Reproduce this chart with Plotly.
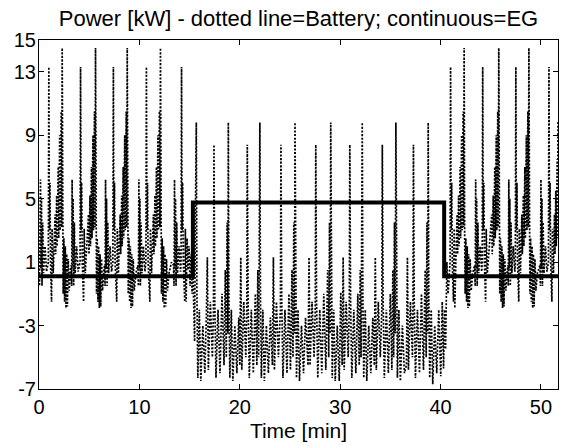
import plotly.graph_objects as go

TITLE = "Power [kW] - dotted line=Battery; continuous=EG"
X_LABEL = "Time [min]"
X_TICKS = [0, 10, 20, 30, 40, 50]
Y_TICKS = [-7, -3, 1, 5, 9, 13, 15]

# Electric grid (EG) power, step profile [min], [kW]
EG_T = [0.0, 15.33, 40.36, 51.7]
EG_V = [0.1, 4.75, 0.1, 0.1]

# Battery power, section 1 (0 - 15.33 min)
S1_T = [0.00, 0.05, 0.15, 0.20, 0.25, 0.30, 0.37, 0.45, 0.60, 0.75, 0.93, 0.98, 1.03, 1.09, 1.15, 1.25, 1.31, 1.42,
        1.61, 1.66, 1.76, 1.81, 1.91, 1.96, 2.06, 2.11, 2.21, 2.26, 2.31, 2.36, 2.41, 2.48, 2.55, 2.62, 2.69, 2.76,
        2.83, 2.91, 3.01, 3.11, 3.20, 3.25,
        3.30, 3.35, 3.40, 3.45, 3.52, 3.60, 3.75, 3.90, 4.09, 4.14, 4.19, 4.25, 4.31, 4.44, 4.50, 4.61,
        4.93, 4.98, 5.08, 5.13, 5.23, 5.28, 5.38, 5.43, 5.53, 5.58, 5.63, 5.68, 5.73, 5.80, 5.87, 5.94, 6.01, 6.08,
        6.15, 6.23, 6.33, 6.43, 6.53, 6.58,
        6.63, 6.68, 6.73, 6.78, 6.85, 6.93, 7.08, 7.23, 7.36, 7.41, 7.46, 7.52, 7.58, 7.74, 7.80, 7.91,
        8.09, 8.14, 8.24, 8.29, 8.39, 8.44, 8.54, 8.59, 8.69, 8.74, 8.79, 8.84, 8.89, 8.96, 9.03, 9.10, 9.17, 9.24,
        9.31, 9.39, 9.49, 9.65, 9.85, 9.90,
        9.95, 10.00, 10.05, 10.10, 10.17, 10.25, 10.40, 10.55, 10.65, 10.70, 10.75, 10.81, 10.87, 11.04, 11.10, 11.21,
        11.40, 11.45, 11.55, 11.60, 11.70, 11.75, 11.85, 11.90, 12.00, 12.05, 12.10, 12.15, 12.20, 12.27, 12.34, 12.41,
        12.48, 12.55, 12.62, 12.70, 12.80, 12.95, 13.20, 13.40, 13.45,
        13.50, 13.55, 13.60, 13.65, 13.72, 13.80, 13.95, 14.10, 14.15, 14.20, 14.25, 14.31, 14.37, 14.52, 14.58, 14.66,
        14.75, 14.85, 14.95, 15.05, 15.15, 15.25, 15.33]
S1_V = [0.8, -0.5, 6.2, 0.6, 5.0, -0.5, 3.5, 0.3, 2.0, 0.4, 1.0, 13.3, 3.0, 6.0, 1.0, -1.5, 3.1, 0.3,
        4.0, 1.5, 5.2, 2.0, 7.0, 2.5, 9.0, 3.0, 10.5, 3.2, 14.5, 3.0, -1.0, 2.5, -1.5, 2.0, -1.9, 1.5,
        -1.8, 1.2, -0.8, 0.3, 0.8, -0.5,
        6.2, 0.6, 5.0, -0.5, 3.5, 0.3, 2.0, 0.4, 1.0, 13.3, 3.0, 6.0, 1.0, -1.5, 3.1, 0.3,
        4.0, 1.5, 5.2, 2.0, 7.0, 2.5, 9.0, 3.0, 10.5, 3.2, 14.5, 3.0, -1.0, 2.5, -1.5, 2.0, -1.9, 1.5,
        -1.8, 1.2, -0.8, 0.3, 0.8, -0.5,
        6.2, 0.6, 5.0, -0.5, 3.5, 0.3, 2.0, 0.4, 1.0, 13.3, 3.0, 6.0, 1.0, -1.5, 3.1, 0.3,
        4.0, 1.5, 5.2, 2.0, 7.0, 2.5, 9.0, 3.0, 10.5, 3.2, 14.5, 3.0, -1.0, 2.5, -1.5, 2.0, -1.9, 1.5,
        -1.8, 1.2, -0.8, 0.3, 0.8, -0.5,
        6.2, 0.6, 5.0, -0.5, 3.5, 0.3, 2.0, 0.4, 1.0, 13.3, 3.0, 6.0, 1.0, -1.5, 3.1, 0.3,
        4.0, 1.5, 5.2, 2.0, 7.0, 2.5, 9.0, 3.0, 10.5, 3.2, 14.5, 3.0, -1.0, 2.5, -1.5, 2.0,
        -1.9, 1.5, -1.8, 1.2, -0.8, 0.3, 1.0, 0.8, -0.5,
        6.2, 0.6, 5.0, -0.5, 3.5, 0.3, 2.0, 0.4, 1.0, 13.3, 3.0, 6.0, 1.0, -1.5, 3.1, -1.5,
        2.5, 0.5, 2.0, -0.5, 1.5, -1.0, 0.5]

# Battery power, section 2 (15.33 - 40.36 min)
S2_T = [15.40, 15.50, 15.58, 15.67, 15.73, 15.82, 15.97, 16.12, 16.32, 16.52, 16.67, 16.77,
        16.87, 17.07, 17.27, 17.38, 17.43, 17.51, 17.63, 17.83, 18.03, 18.23, 18.43, 18.56, 18.66, 18.74, 18.81,
        18.86, 18.92, 19.01, 19.16, 19.31, 19.51, 19.71, 19.90, 20.00, 20.10,
        20.20, 20.40, 20.60, 20.70, 20.75, 20.83, 20.95, 21.15, 21.35, 21.55, 21.70, 21.80, 21.88, 21.95,
        22.00, 22.06, 22.15, 22.30, 22.45, 22.65, 22.85, 23.05, 23.25, 23.35,
        23.45, 23.65, 23.85, 24.05, 24.10, 24.18, 24.30, 24.50, 24.70, 24.90, 25.05, 25.20, 25.30, 25.38, 25.45,
        25.50, 25.56, 25.65, 25.80, 25.95, 26.15, 26.35, 26.55, 26.80, 26.90,
        27.00, 27.20, 27.40, 27.52, 27.57, 27.65, 27.77, 27.97, 28.17, 28.37, 28.57, 28.76, 28.86, 28.94, 29.01,
        29.06, 29.12, 29.21, 29.36, 29.51, 29.71, 29.91, 30.06, 30.20, 30.30,
        30.40, 30.60, 30.80, 30.91, 30.96, 31.04, 31.16, 31.36, 31.56, 31.76, 31.90, 32.00, 32.08, 32.15,
        32.20, 32.26, 32.35, 32.50, 32.65, 32.85, 33.05, 33.25, 33.40, 33.50,
        33.60, 33.80, 34.00, 34.15, 34.20, 34.28, 34.40, 34.60, 34.80, 35.00, 35.15, 35.25, 35.33, 35.41, 35.48,
        35.55, 35.61, 35.70, 35.85, 36.00, 36.20, 36.40, 36.60, 36.70,
        36.80, 37.00, 37.20, 37.25, 37.30, 37.38, 37.50, 37.70, 37.90, 38.10, 38.30, 38.47, 38.57, 38.65, 38.72,
        38.77, 38.83, 38.92, 39.07, 39.22, 39.42, 39.62, 39.82, 40.02, 40.17, 40.30]
S2_V = [-2.0, -4.0, 4.0, 9.8, -1.0, -6.3, -2.0, -6.5, -3.0, -6.0, -2.5, 1.3,
        -5.8, -1.5, -5.0, -2.0, 8.4, -1.5, -6.3, -2.0, -6.0, -1.0, -5.5, 0.5, -5.0, 3.5, -3.5,
        9.8, -1.0, -6.3, -2.0, -6.5, -3.0, -6.0, -2.5, -5.5, 1.3,
        -5.8, -1.5, -5.0, -2.0, 8.4, -1.5, -6.3, -2.0, -6.0, -1.0, -5.5, 0.5, -5.0, 3.5,
        9.8, -1.0, -6.3, -2.0, -6.5, -3.0, -6.0, -2.5, -5.5, 1.3,
        -5.8, -1.5, -5.0, -2.0, 8.4, -1.5, -6.3, -2.0, -6.0, -1.0, -5.8, 0.5, -5.0, 3.5, -3.5,
        9.8, -1.0, -6.3, -2.0, -6.5, -3.0, -6.0, -2.5, -5.5, 1.3,
        -5.5, -1.5, -5.0, -2.0, 8.4, -1.5, -6.3, -2.0, -6.0, -1.0, -5.8, 0.5, -5.0, 3.5, -3.5,
        9.8, -1.0, -6.3, -2.0, -6.5, -3.0, -6.5, -0.9, -5.5, 1.3,
        -5.8, -1.5, -5.0, -2.0, 8.4, -1.5, -6.3, -2.0, -6.0, -1.0, -5.5, 0.5, -5.0, 3.5,
        9.8, -1.0, -6.3, -2.0, -6.5, -3.0, -6.0, -2.5, -5.5, 1.3,
        -5.8, -1.5, -5.0, -2.0, 8.4, -1.5, -6.3, -2.0, -6.0, -1.0, -5.8, 0.5, -5.0, 3.5, -3.5,
        9.8, -1.0, -6.3, -2.0, -6.5, -3.0, -6.0, -5.5, 1.3,
        -5.8, -1.5, -5.0, -2.0, 8.4, -1.5, -6.3, -2.0, -6.0, -1.0, -5.8, 0.5, -5.0, 3.5, -3.5,
        9.8, -1.0, -6.3, -2.0, -6.7, -3.0, -6.0, -2.0, -6.2, -1.5, -5.7]

# Battery power, section 3 (40.36 - 51.7 min)
S3_T = [40.40, 40.50, 40.63, 40.75, 40.95, 41.00, 41.05, 41.11, 41.17, 41.29, 41.35, 41.42, 41.52,
        41.65, 41.70, 41.80, 41.85, 41.95, 42.00, 42.10, 42.15, 42.25, 42.30, 42.35, 42.40, 42.45, 42.52, 42.59,
        42.66, 42.73, 42.80, 42.87, 42.95, 43.05, 43.20, 43.40, 43.45,
        43.50, 43.55, 43.60, 43.65, 43.72, 43.80, 43.95, 44.10, 44.15, 44.20, 44.25, 44.31, 44.37, 44.49, 44.55, 44.66,
        45.10, 45.15, 45.25, 45.30, 45.40, 45.45, 45.55, 45.60, 45.70, 45.75, 45.80, 45.85, 45.90, 45.97, 46.04,
        46.11, 46.18, 46.25, 46.32, 46.40, 46.50, 46.62, 46.70, 46.75,
        46.80, 46.85, 46.90, 46.95, 47.02, 47.10, 47.25, 47.40, 47.45, 47.50, 47.55, 47.61, 47.67, 47.79, 47.85, 47.96,
        48.10, 48.15, 48.25, 48.30, 48.40, 48.45, 48.55, 48.60, 48.70, 48.75, 48.80, 48.85, 48.90, 48.97, 49.04,
        49.11, 49.18, 49.25, 49.32, 49.40, 49.50, 49.65, 49.90, 49.95,
        50.00, 50.05, 50.10, 50.15, 50.22, 50.30, 50.45, 50.60, 50.75, 50.80, 50.85, 50.91, 50.97, 51.09, 51.15, 51.25,
        51.35, 51.40, 51.48, 51.53, 51.62, 51.66, 51.70]
S3_V = [-2.0, -4.5, 1.0, -1.0, 1.0, 13.3, 3.0, 6.0, 1.0, -1.5, 3.1, -1.9, 1.0,
        4.0, 1.5, 5.2, 2.0, 7.0, 2.5, 9.0, 3.0, 10.5, 3.2, 14.5, 3.0, -1.0, 2.5, -1.5,
        2.0, -1.9, 1.5, -1.8, 1.2, -0.8, 0.3, 0.8, -0.5,
        6.2, 0.6, 5.0, -0.5, 3.5, 0.3, 2.0, 0.4, 1.0, 13.3, 3.0, 6.0, 1.0, -1.5, 3.1, 0.3,
        4.0, 1.5, 5.2, 2.0, 7.0, 2.5, 9.0, 3.0, 10.5, 3.2, 14.5, 3.0, -1.0, 2.5, -1.5,
        2.0, -1.9, 1.5, -1.8, 1.2, -0.8, 0.3, 0.8, -0.5,
        6.2, 0.6, 5.0, -0.5, 3.5, 0.3, 2.0, 0.4, 1.0, 13.3, 3.0, 6.0, 1.0, -1.5, 3.1, 0.3,
        4.0, 1.5, 5.2, 2.0, 7.0, 2.5, 9.0, 3.0, 10.5, 3.2, 14.5, 3.0, -1.0, 2.5, -1.5,
        2.0, -1.9, 1.5, -1.8, 1.2, -0.8, 0.3, 0.8, -0.5,
        6.2, 0.6, 5.0, -0.5, 3.5, 0.3, 2.0, 0.4, 1.0, 13.3, 3.0, 6.0, 1.0, -1.5, 3.1, 0.3,
        4.0, 1.5, 5.5, 2.0, 7.5, 2.5, 9.9]

assert len(S1_T) == len(S1_V) and len(S2_T) == len(S2_V) and len(S3_T) == len(S3_V)

BATT_T = S1_T + S2_T + S3_T
BATT_V = S1_V + S2_V + S3_V

FONT = "Arial, 'Liberation Sans', sans-serif"

fig = go.Figure()
fig.add_trace(go.Scatter(x=BATT_T, y=BATT_V, mode="lines",
                         line=dict(color="black", width=1.7, dash="2px,1.6px"),
                         name="Battery", showlegend=False))
fig.add_trace(go.Scatter(x=EG_T, y=EG_V, mode="lines", line_shape="hv",
                         line=dict(color="black", width=4),
                         name="EG", showlegend=False))

axis_common = dict(showline=True, linecolor="black", linewidth=1, mirror="ticks",
                   ticks="inside", ticklen=5, tickcolor="black", showgrid=False,
                   zeroline=False, tickfont=dict(family=FONT, size=20, color="black"))

fig.update_layout(
    width=561, height=445,
    margin=dict(l=39, r=3, t=40, b=56),
    paper_bgcolor="white", plot_bgcolor="white",
    hovermode=False,
    title=dict(text=TITLE, x=0.5, xref="paper", y=1 - 18.5 / 445, yref="container",
               xanchor="center", yanchor="middle",
               font=dict(family=FONT, size=22, color="black")),
    xaxis=dict(range=[0, 51.7], tickvals=X_TICKS, ticktext=[str(v) for v in X_TICKS],
               title=dict(text=X_LABEL, font=dict(family=FONT, size=21, color="black"), standoff=6),
               **axis_common),
    yaxis=dict(range=[-7, 15], tickvals=Y_TICKS, ticktext=[str(v) for v in Y_TICKS],
               ticklabelstandoff=-2, **axis_common),
)

fig.write_html("out.html", config={"displayModeBar": False},
               post_script="document.body.style.margin='0px';")
